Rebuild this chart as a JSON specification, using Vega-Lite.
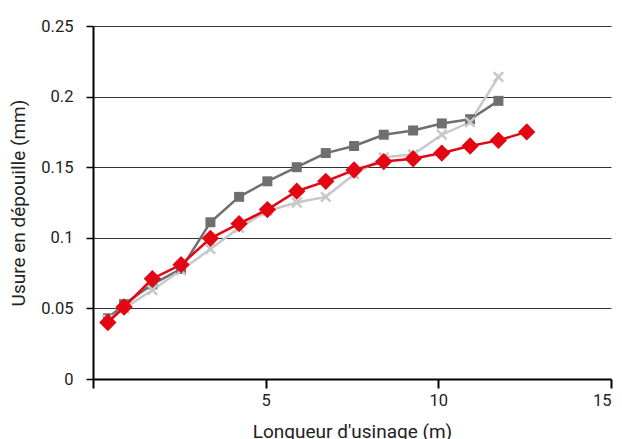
{
  "$schema": "https://vega.github.io/schema/vega-lite/v6.json",
  "width": 518,
  "height": 353,
  "autosize": "none",
  "padding": {"left": 93, "top": 26, "right": 11, "bottom": 60},
  "background": "white",
  "config": {
    "view": {"stroke": null},
    "font": "Roboto",
    "axis": {"labelFont": "Roboto", "titleFont": "Roboto", "labelFontSize": 16.5, "titleFontSize": 19, "titleFontWeight": "normal", "labelColor": "#222", "titleColor": "#222"}
  },
  "data": {
    "values": [
      {"x": 0.43, "y": 0.042, "s": "A"},
      {"x": 0.90, "y": 0.050, "s": "A"},
      {"x": 1.72, "y": 0.063, "s": "A"},
      {"x": 2.55, "y": 0.077, "s": "A"},
      {"x": 3.40, "y": 0.092, "s": "A"},
      {"x": 4.23, "y": 0.107, "s": "A"},
      {"x": 5.05, "y": 0.119, "s": "A"},
      {"x": 5.90, "y": 0.125, "s": "A"},
      {"x": 6.74, "y": 0.129, "s": "A"},
      {"x": 7.56, "y": 0.145, "s": "A"},
      {"x": 8.42, "y": 0.157, "s": "A"},
      {"x": 9.27, "y": 0.159, "s": "A"},
      {"x": 10.10, "y": 0.173, "s": "A"},
      {"x": 10.92, "y": 0.182, "s": "A"},
      {"x": 11.74, "y": 0.214, "s": "A"},
      {"x": 0.43, "y": 0.043, "s": "B"},
      {"x": 0.90, "y": 0.053, "s": "B"},
      {"x": 1.72, "y": 0.067, "s": "B"},
      {"x": 2.55, "y": 0.078, "s": "B"},
      {"x": 3.40, "y": 0.111, "s": "B"},
      {"x": 4.23, "y": 0.129, "s": "B"},
      {"x": 5.05, "y": 0.140, "s": "B"},
      {"x": 5.90, "y": 0.150, "s": "B"},
      {"x": 6.74, "y": 0.160, "s": "B"},
      {"x": 7.56, "y": 0.165, "s": "B"},
      {"x": 8.42, "y": 0.173, "s": "B"},
      {"x": 9.27, "y": 0.176, "s": "B"},
      {"x": 10.10, "y": 0.181, "s": "B"},
      {"x": 10.92, "y": 0.184, "s": "B"},
      {"x": 11.74, "y": 0.197, "s": "B"},
      {"x": 0.43, "y": 0.040, "s": "C"},
      {"x": 0.90, "y": 0.051, "s": "C"},
      {"x": 1.72, "y": 0.071, "s": "C"},
      {"x": 2.55, "y": 0.081, "s": "C"},
      {"x": 3.40, "y": 0.0996, "s": "C"},
      {"x": 4.23, "y": 0.110, "s": "C"},
      {"x": 5.05, "y": 0.120, "s": "C"},
      {"x": 5.90, "y": 0.133, "s": "C"},
      {"x": 6.74, "y": 0.140, "s": "C"},
      {"x": 7.56, "y": 0.148, "s": "C"},
      {"x": 8.42, "y": 0.154, "s": "C"},
      {"x": 9.27, "y": 0.156, "s": "C"},
      {"x": 10.10, "y": 0.160, "s": "C"},
      {"x": 10.92, "y": 0.165, "s": "C"},
      {"x": 11.74, "y": 0.169, "s": "C"},
      {"x": 12.56, "y": 0.175, "s": "C"}
    ]
  },
  "encoding": {
    "x": {
      "field": "x", "type": "quantitative",
      "scale": {"domain": [0, 15], "nice": false, "zero": false},
      "axis": {
        "title": "Longueur d'usinage (m)",
        "values": [0, 5, 10, 15],
        "labelExpr": "datum.value == 0 ? '' : datum.label",
        "grid": false,
        "domainColor": "#000", "domainWidth": 2,
        "tickColor": "#000", "tickWidth": 2, "tickSize": 9,
        "labelPadding": 4, "titlePadding": 14
      }
    },
    "y": {
      "field": "y", "type": "quantitative",
      "scale": {"domain": [0, 0.25], "nice": false},
      "axis": {
        "title": "Usure en dépouille (mm)",
        "values": [0, 0.05, 0.1, 0.15, 0.2, 0.25],
        "format": ".2~f",
        "grid": true, "gridColor": "#333", "gridWidth": 1.2,
        "domainColor": "#000", "domainWidth": 2,
        "tickColor": "#000", "tickWidth": 1.5, "tickSize": 7,
        "labelPadding": 13, "titlePadding": 12
      }
    }
  },
  "layer": [
    {
      "transform": [{"filter": "datum.s == 'B'"}],
      "mark": {"type": "line", "color": "#6f6f6f", "strokeWidth": 2.5}
    },
    {
      "transform": [{"filter": "datum.s == 'A'"}],
      "mark": {"type": "line", "color": "#c8c8c8", "strokeWidth": 2.5}
    },
    {
      "transform": [{"filter": "datum.s == 'B'"}],
      "mark": {"type": "point", "shape": "square", "filled": true, "color": "#6f6f6f", "size": 100, "opacity": 1}
    },
    {
      "transform": [{"filter": "datum.s == 'A'"}],
      "mark": {"type": "point", "shape": "M-1,-1L1,1M-1,1L1,-1", "filled": false, "color": "#c8c8c8", "strokeWidth": 2.5, "size": 90, "opacity": 1}
    },
    {
      "transform": [{"filter": "datum.s == 'C'"}],
      "mark": {"type": "line", "color": "#e30613", "strokeWidth": 2.5}
    },
    {
      "transform": [{"filter": "datum.s == 'C'"}],
      "mark": {"type": "point", "shape": "diamond", "filled": true, "color": "#e30613", "size": 300, "opacity": 1}
    }
  ]
}
